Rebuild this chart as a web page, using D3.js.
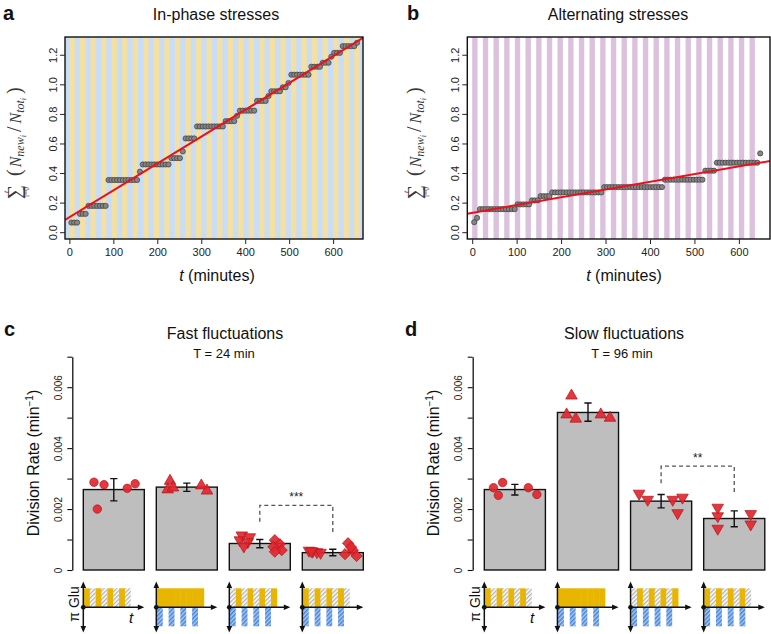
<!DOCTYPE html>
<html>
<head>
<meta charset="utf-8">
<script src="https://cdn.jsdelivr.net/npm/d3@7/dist/d3.min.js"></script>
<style>
html,body{margin:0;padding:0;background:#fff;}
svg{display:block;}
</style>
</head>
<body>
<svg id="fig" width="771" height="634" xmlns="http://www.w3.org/2000/svg"></svg>
<script>
// ================= DATA =================
// frame times (minutes) of the time-lapse
const frameTimes = [4.5,11,17.5,24,30.5,37,43.5,50,56.5,63,69.5,76,82.5,89,95.5,102,108.5,115,121.5,128,
 134.5,141,147.5,154,160.5,167,173.5,180,186.5,193,199.5,206,212.5,219,225.5,232,238.5,245,251.5,258,
 264.5,271,277.5,284,290.5,297,303.5,310,316.5,323,329.5,336,342.5,349,355.5,362,368.5,375,381.5,388,
 394.5,401,407.5,414,420.5,427,433.5,440,446.5,453,459.5,466,472.5,479,485.5,492,498.5,505,511.5,518,
 524.5,531,537.5,544,550.5,557,563.5,570,576.5,583,589.5,596,602.5,609,615.5,622,628.5,635,641.5,648,654.5];

// a: in-phase stresses, cumulative sum of N_new/N_tot
const aValues = [0.065,0.065,0.065,0.124,0.124,0.124,0.178,0.178,0.178,0.178,0.178,0.178,0.178,
 0.353,0.353,0.353,0.353,0.353,0.353,0.353,0.353,0.353,0.353,0.353,0.409,
 0.458,0.458,0.458,0.458,0.458,0.458,0.458,0.458,0.458,0.458,
 0.501,0.501,0.501,0.501,0.546,0.634,0.634,0.634,0.634,
 0.715,0.715,0.715,0.715,0.715,0.715,0.715,0.715,0.715,0.715,
 0.751,0.751,0.751,0.751,0.787,0.822,0.822,0.822,0.822,0.822,0.822,
 0.888,0.888,0.888,0.888,0.921,0.953,0.953,0.953,0.953,0.980,0.980,1.009,
 1.065,1.065,1.065,1.065,1.065,1.065,1.065,1.119,1.119,1.119,1.119,
 1.146,1.146,1.146,1.187,1.213,1.213,1.213,1.258,1.258,1.258,1.258,1.258,1.281];

// b: alternating stresses
const bValues = [0.068,0.097,
 0.156,0.156,0.156,0.156,0.156,0.156,0.156,0.156,0.156,0.156,0.156,0.156,0.156,
 0.188,0.188,0.188,0.188,0.188,0.215,0.215,0.215,0.244,0.244,0.244,0.244,
 0.269,0.269,0.269,0.269,0.269,0.269,0.269,0.269,0.269,0.269,0.269,0.269,0.269,0.269,0.269,0.269,0.269,0.269,
 0.305,0.305,0.305,0.305,0.305,0.305,0.305,0.305,0.305,0.305,0.305,0.305,0.305,0.305,0.305,0.305,0.305,0.305,0.305,0.305,0.305,
 0.355,0.355,0.355,0.355,0.355,0.355,0.355,0.355,0.355,0.355,0.355,0.355,0.355,0.355,
 0.416,0.416,0.416,0.416,
 0.470,0.470,0.470,0.470,0.470,0.470,0.470,0.470,0.470,0.470,0.470,0.470,0.470,0.470,0.470,
 0.533];

// linear fits [intercept, slope per minute]
const aFit = [0.101, 0.001816];
const bFit = [0.131, 0.000523];

const timeTicks = [0, 100, 200, 300, 400, 500, 600];
const cumTicks = [0, 0.2, 0.4, 0.6, 0.8, 1.0, 1.2];
const stressPeriod = 24;      // minutes
const stressHalf = 12;        // minutes
const aStripeEnd = 660;
const bStripeEnd = 636;

// c, d: division rates
const conditions = ["Glucose fluctuations", "Constant glucose + stress", "Alternating", "In-phase"];
const rateTicks = [0, 0.001, 0.002, 0.003, 0.004, 0.005, 0.006, 0.007];
const rateTickLabels = {0: "0", 0.002: "0.002", 0.004: "0.004", 0.006: "0.006"};

const cMeans = [0.00264, 0.00272, 0.00087, 0.00057];
const cLow   = [0.00227, 0.00258, 0.00073, 0.00047];
const cHigh  = [0.00300, 0.00285, 0.00100, 0.00068];
const cGroupBars   = [0, 1, 2, 2, 3, 3];
const cGroupShapes = ["circle", "triangleUp", "triangleDown", "diamond", "triangleDown", "diamond"];
const cGroupValues = [
  [0.00288, 0.00280, 0.00200, 0.00268, 0.00283],
  [0.00292, 0.00264, 0.00270, 0.00277, 0.00260],
  [0.00114, 0.00108, 0.00098, 0.00092, 0.00078],
  [0.00098, 0.00085, 0.00076, 0.00065, 0.00060],
  [0.00064, 0.00061, 0.00059, 0.00057, 0.00062],
  [0.00088, 0.00065, 0.00052, 0.00046, 0.00075]
];
const cGroupJitter = [
  [-0.325, -0.16, -0.27, 0.22, 0.35],
  [-0.275, -0.313, -0.226, 0.238, 0.331],
  [-0.295, -0.164, -0.328, -0.197, -0.262],
  [0.246, 0.328, 0.221, 0.36, 0.246],
  [-0.39, -0.33, -0.26, -0.20, -0.35],
  [0.25, 0.33, 0.20, 0.39, 0.30]
];
const cSig = {from: 2, to: 3, label: "***", top: 0.00212, legs: [0.00158, 0.00122]};

const dMeans = [0.00264, 0.00517, 0.00226, 0.00169];
const dLow   = [0.00246, 0.00488, 0.00204, 0.00142];
const dHigh  = [0.00281, 0.00548, 0.00248, 0.00194];
const dGroupBars   = [0, 1, 2, 3];
const dGroupShapes = ["circle", "triangleUp", "triangleDown", "triangleDown"];
const dGroupValues = [
  [0.00270, 0.00287, 0.00245, 0.00270, 0.00248],
  [0.00572, 0.00510, 0.00496, 0.00510, 0.00499],
  [0.00251, 0.00231, 0.00231, 0.00238, 0.00187],
  [0.00205, 0.00177, 0.00136, 0.00184, 0.00150]
];
const dGroupJitter = [
  [-0.35, -0.20, -0.27, 0.22, 0.36],
  [-0.27, -0.35, -0.20, 0.21, 0.36],
  [-0.36, -0.22, 0.19, 0.35, 0.27],
  [-0.27, -0.27, -0.27, 0.27, 0.27]
];
const dSig = {from: 2, to: 3, label: "**", top: 0.00341, legs: [0.00285, 0.00254]};

// schematic glucose / stress patterns (8 half-periods)
const glucoseOn = [[1,0,1,0,1,0,1,0],[1,1,1,1,1,1,1,1],[0,1,0,1,0,1,0,1],[1,0,1,0,1,0,1,0]];
const stressOn  = [[0,0,0,0,0,0,0,0],[1,0,1,0,1,0,1,0],[1,0,1,0,1,0,1,0],[1,0,1,0,1,0,1,0]];

// ================= DRAWING =================
const SANS = "'Liberation Sans', Arial, Helvetica, sans-serif";
const SERIF = "'Liberation Serif', 'DejaVu Serif', 'Times New Roman', serif";
const svg = d3.select("#fig");
svg.append("rect").attr("width", 771).attr("height", 634).attr("fill", "#fff");
const defs = svg.append("defs");

// hatch patterns
const pg = defs.append("pattern").attr("id", "hatchGray").attr("patternUnits", "userSpaceOnUse")
  .attr("width", 3).attr("height", 3).attr("patternTransform", "rotate(45)");
pg.append("rect").attr("width", 3).attr("height", 3).attr("fill", "#fff");
pg.append("line").attr("x1", 0.75).attr("y1", 0).attr("x2", 0.75).attr("y2", 3).attr("stroke", "#a0a0a0").attr("stroke-width", 1.1);
const pb = defs.append("pattern").attr("id", "hatchBlue").attr("patternUnits", "userSpaceOnUse")
  .attr("width", 3).attr("height", 3).attr("patternTransform", "rotate(45)");
pb.append("rect").attr("width", 3).attr("height", 3).attr("fill", "#a9c9f2");
pb.append("line").attr("x1", 0.75).attr("y1", 0).attr("x2", 0.75).attr("y2", 3).attr("stroke", "#3f7fd6").attr("stroke-width", 1.4);

function panelLetter(x, y, t) {
  svg.append("text").attr("x", x).attr("y", y).attr("font-family", SANS).attr("font-weight", "bold")
    .attr("font-size", 20).attr("fill", "#111").text(t);
}
function centeredText(x, y, t, size) {
  svg.append("text").attr("x", x).attr("y", y).attr("text-anchor", "middle").attr("font-family", SANS)
    .attr("font-size", size).attr("fill", "#111").text(t);
}

// ---------- top panels ----------
const topY = d3.scaleLinear().domain([-0.046, 1.32]).range([239, 37]);

function sumLabel(bx, cy) {
  const g = svg.append("g").attr("transform", `translate(${bx},${cy}) rotate(-90)`)
    .attr("font-family", SERIF).attr("fill", "#3a3a3a");
  g.append("text").attr("x", -52).attr("y", 0).attr("text-anchor", "middle").attr("font-size", 20).text("\u2211");
  g.append("text").attr("x", -52).attr("y", -12).attr("text-anchor", "middle").attr("font-size", 8).attr("font-style", "italic").text("t");
  g.append("text").attr("x", -52).attr("y", 8).attr("text-anchor", "middle").attr("font-size", 7.5).text("i=0");
  const t = g.append("text").attr("x", -36).attr("y", 0);
  t.append("tspan").attr("font-size", 20).text("(");
  t.append("tspan").attr("font-size", 16).attr("font-style", "italic").attr("dx", 2).text("N");
  t.append("tspan").attr("font-size", 12).attr("font-style", "italic").attr("dy", 3).text("new");
  t.append("tspan").attr("font-size", 8).attr("font-style", "italic").attr("dy", 2).text("i");
  t.append("tspan").attr("font-size", 20).attr("dy", -5).attr("dx", 3).text("/");
  t.append("tspan").attr("font-size", 16).attr("font-style", "italic").attr("dx", 3).text("N");
  t.append("tspan").attr("font-size", 12).attr("font-style", "italic").attr("dy", 3).text("tot");
  t.append("tspan").attr("font-size", 8).attr("font-style", "italic").attr("dy", 2).text("i");
  t.append("tspan").attr("font-size", 20).attr("dy", -5).attr("dx", 4).text(")");
}

function drawTop(cfg) {
  const {id, x, values, fit, bgFill, stripeFill, stripeEnd, title, titleX, xLabelX, labelBx} = cfg;
  const [x0, x1] = x.range();
  const [y0, y1] = [topY.range()[1], topY.range()[0]];
  defs.append("clipPath").attr("id", "clip" + id).append("rect")
    .attr("x", x0).attr("y", y0).attr("width", x1 - x0).attr("height", y1 - y0);
  const g = svg.append("g").attr("clip-path", `url(#clip${id})`);
  g.append("rect").attr("x", x0).attr("y", y0).attr("width", x1 - x0).attr("height", y1 - y0).attr("fill", bgFill);
  g.selectAll("rect.stripe").data(d3.range(0, stripeEnd, stressPeriod)).join("rect").attr("class", "stripe")
    .attr("x", d => x(d)).attr("width", d => x(d + stressHalf) - x(d))
    .attr("y", y0).attr("height", y1 - y0).attr("fill", stripeFill);
  g.selectAll("circle").data(values).join("circle")
    .attr("cx", (d, i) => x(frameTimes[i])).attr("cy", d => topY(d)).attr("r", 2.6)
    .attr("fill", "#858585").attr("stroke", "#3c3c3c").attr("stroke-width", 0.7);
  const dom = x.domain();
  g.append("line").attr("x1", x(dom[0])).attr("x2", x(dom[1]))
    .attr("y1", topY(fit[0] + fit[1] * dom[0])).attr("y2", topY(fit[0] + fit[1] * dom[1]))
    .attr("stroke", "#e8121c").attr("stroke-width", 2);
  svg.append("rect").attr("x", x0).attr("y", y0).attr("width", x1 - x0).attr("height", y1 - y0)
    .attr("fill", "none").attr("stroke", "#111").attr("stroke-width", 1.4);

  const ax = svg.append("g").attr("transform", `translate(0,${y1})`)
    .call(d3.axisBottom(x).tickValues(timeTicks).tickSize(5).tickPadding(3.7).tickSizeOuter(0));
  ax.select(".domain").remove();
  ax.selectAll("line").attr("stroke", "#222").attr("stroke-width", 1);
  ax.selectAll("text").attr("font-family", SANS).attr("font-size", 11).attr("fill", "#222");
  const ay = svg.append("g").attr("transform", `translate(${x0},0)`)
    .call(d3.axisLeft(topY).tickValues(cumTicks).tickSize(5).tickSizeOuter(0).tickFormat(d3.format(".1f")));
  ay.select(".domain").remove();
  ay.selectAll("line").attr("stroke", "#222").attr("stroke-width", 1);
  ay.selectAll("text").attr("x", null).attr("dy", null).attr("text-anchor", "middle")
    .attr("transform", "translate(-8.3,0) rotate(-90)")
    .attr("font-family", SANS).attr("font-size", 11).attr("fill", "#222");

  centeredText(titleX, 19.5, title, 16);
  const xl = svg.append("text").attr("x", xLabelX).attr("y", 281).attr("text-anchor", "middle")
    .attr("font-family", SANS).attr("font-size", 16).attr("fill", "#111");
  xl.append("tspan").attr("font-style", "italic").text("t");
  xl.append("tspan").text(" (minutes)");
  sumLabel(labelBx, 140);
}

drawTop({id: "a", x: d3.scaleLinear().domain([-10, 668]).range([65, 363]), values: aValues, fit: aFit,
  bgFill: "#c9ddf6", stripeFill: "#f4e0a0", stripeEnd: aStripeEnd, title: "In-phase stresses",
  titleX: 216, xLabelX: 217, labelBx: 21});
drawTop({id: "b", x: d3.scaleLinear().domain([-11, 670]).range([467.3, 770]), values: bValues, fit: bFit,
  bgFill: "#ffffff", stripeFill: "#dcc1de", stripeEnd: bStripeEnd, title: "Alternating stresses",
  titleX: 618, xLabelX: 624, labelBx: 421});
panelLetter(3, 19.5, "a");
panelLetter(407, 19.5, "b");

// ---------- bottom panels ----------
const rateY = d3.scaleLinear().domain([0, 0.007]).range([570, 356.7]);
const symbolPaths = {
  circle: d3.symbol(d3.symbolCircle, 56)(),
  triangleUp: d3.symbol(d3.symbolTriangle, 58)(),
  triangleDown: d3.symbol(d3.symbolTriangle, 58)(),
  diamond: d3.symbol(d3.symbolSquare, 62)()
};
const symbolRot = {circle: 0, triangleUp: 0, triangleDown: 180, diamond: 45};

function drawBars(cfg) {
  const {band, axisX, means, low, high, gBars, gShapes, gValues, gJitter, sig, title, sub, titleX, subX, yLabelX} = cfg;
  const bw = band.bandwidth();
  // bars
  svg.append("g").selectAll("rect").data(conditions).join("rect")
    .attr("x", d => band(d)).attr("width", bw)
    .attr("y", (d, i) => rateY(means[i])).attr("height", (d, i) => rateY(0) - rateY(means[i]))
    .attr("fill", "#bebebe").attr("stroke", "#111").attr("stroke-width", 1.4);
  // points
  const pts = [];
  gValues.forEach((vals, gi) => vals.forEach((v, k) => pts.push({bar: gBars[gi], shape: gShapes[gi], v, j: gJitter[gi][k]})));
  svg.append("g").selectAll("path").data(pts).join("path")
    .attr("d", d => symbolPaths[d.shape])
    .attr("transform", d => `translate(${band(conditions[d.bar]) + bw / 2 + d.j * bw},${rateY(d.v)}) rotate(${symbolRot[d.shape]})`)
    .attr("fill", "#e3262e").attr("fill-opacity", 0.92).attr("stroke", "#b0161d").attr("stroke-width", 0.7);
  // error bars
  const eb = svg.append("g").attr("stroke", "#111").attr("stroke-width", 1.4).attr("fill", "none");
  conditions.forEach((c, i) => {
    const cx = band(c) + bw / 2;
    eb.append("path").attr("d",
      `M${cx},${rateY(low[i])}V${rateY(high[i])}M${cx - 3.6},${rateY(low[i])}H${cx + 3.6}M${cx - 3.6},${rateY(high[i])}H${cx + 3.6}`);
  });
  // significance bracket
  const xa = band(conditions[sig.from]) + bw / 2, xb = band(conditions[sig.to]) + bw / 2;
  svg.append("path").attr("d", `M${xa},${rateY(sig.legs[0])}V${rateY(sig.top)}H${xb}V${rateY(sig.legs[1])}`)
    .attr("fill", "none").attr("stroke", "#555").attr("stroke-width", 1.3).attr("stroke-dasharray", "4,3");
  svg.append("text").attr("x", (xa + xb) / 2).attr("y", rateY(sig.top) - 4.5).attr("text-anchor", "middle")
    .attr("font-family", SANS).attr("font-size", 12).attr("fill", "#222").text(sig.label);
  // axis
  const ay = svg.append("g").attr("transform", `translate(${axisX},0)`)
    .call(d3.axisLeft(rateY).tickValues(rateTicks).tickSize(5).tickSizeOuter(0)
      .tickFormat(d => rateTickLabels[d] !== undefined ? rateTickLabels[d] : ""));
  ay.select(".domain").attr("stroke", "#111").attr("stroke-width", 1.3);
  ay.selectAll("line").attr("stroke", "#111").attr("stroke-width", 1.1);
  ay.selectAll("text").attr("x", null).attr("dy", null).attr("text-anchor", "middle")
    .attr("transform", "translate(-10.8,0) rotate(-90)")
    .attr("font-family", SANS).attr("font-size", 10).attr("fill", "#222");
  // y label
  const yl = svg.append("text").attr("transform", `translate(${yLabelX},463) rotate(-90)`)
    .attr("text-anchor", "middle").attr("font-family", SANS).attr("font-size", 16).attr("fill", "#111");
  yl.append("tspan").text("Division Rate (min");
  yl.append("tspan").attr("font-size", 10).attr("dy", -6).text("\u22121");
  yl.append("tspan").attr("dy", 6).text(")");
  centeredText(titleX, 339, title, 16);
  centeredText(subX, 358, sub, 13);

  // schematics
  const oy = 607.3, segH = 19;
  conditions.forEach((c, i) => {
    const ox = band(c);
    const sx = d3.scaleLinear().domain([0, 8]).range([ox + 0.6, ox + 47.5]);
    const sg = svg.append("g");
    glucoseOn[i].forEach((on, k) => {
      sg.append("rect").attr("x", sx(k)).attr("width", sx(k + 1) - sx(k) + (on ? 0.4 : 0))
        .attr("y", oy - segH).attr("height", segH)
        .attr("fill", on ? "#e8b500" : "url(#hatchGray)");
    });
    stressOn[i].forEach((on, k) => {
      if (on) sg.append("rect").attr("x", sx(k)).attr("width", sx(k + 1) - sx(k))
        .attr("y", oy).attr("height", segH).attr("fill", "url(#hatchBlue)");
    });
    const ax2 = svg.append("g").attr("stroke", "#111").attr("stroke-width", 1.5);
    ax2.append("line").attr("x1", ox).attr("x2", ox).attr("y1", 630).attr("y2", 584);
    ax2.append("line").attr("x1", ox).attr("x2", ox + bw - 2).attr("y1", oy).attr("y2", oy);
    const heads = svg.append("g").attr("fill", "#111");
    heads.append("path").attr("d", `M${ox},581.5L${ox - 2.8},588L${ox + 2.8},588Z`);
    heads.append("path").attr("d", `M${ox},632.5L${ox - 2.8},626L${ox + 2.8},626Z`);
    heads.append("path").attr("d", `M${ox + bw},${oy}L${ox + bw - 6.5},${oy - 2.8}L${ox + bw - 6.5},${oy + 2.8}Z`);
    heads.append("circle").attr("cx", ox).attr("cy", oy).attr("r", 2.4);
    if (i === 0) {
      svg.append("text").attr("transform", `translate(${ox - 4.5},604) rotate(-90)`).attr("text-anchor", "middle")
        .attr("font-family", SANS).attr("font-size", 14).attr("fill", "#111").text("\u03c0 Glu");
      svg.append("text").attr("x", ox + 47.7).attr("y", 622.5).attr("text-anchor", "middle")
        .attr("font-family", SANS).attr("font-style", "italic").attr("font-size", 15).attr("fill", "#111").text("t");
    }
  });
}

drawBars({band: d3.scaleBand().domain(conditions).range([77.3, 369.3]).paddingInner(12 / 73).paddingOuter(6 / 73),
  axisX: 72.3, means: cMeans, low: cLow, high: cHigh, gBars: cGroupBars, gShapes: cGroupShapes,
  gValues: cGroupValues, gJitter: cGroupJitter, sig: cSig, title: "Fast fluctuations", sub: "T = 24 min",
  titleX: 225, subX: 224, yLabelX: 38.5});
drawBars({band: d3.scaleBand().domain(conditions).range([478.3, 770.8]).paddingInner(12 / 73).paddingOuter(6 / 73),
  axisX: 472.7, means: dMeans, low: dLow, high: dHigh, gBars: dGroupBars, gShapes: dGroupShapes,
  gValues: dGroupValues, gJitter: dGroupJitter, sig: dSig, title: "Slow fluctuations", sub: "T = 96 min",
  titleX: 624, subX: 622, yLabelX: 438.5});
panelLetter(4, 336, "c");
panelLetter(405, 336, "d");
</script>
</body>
</html>
